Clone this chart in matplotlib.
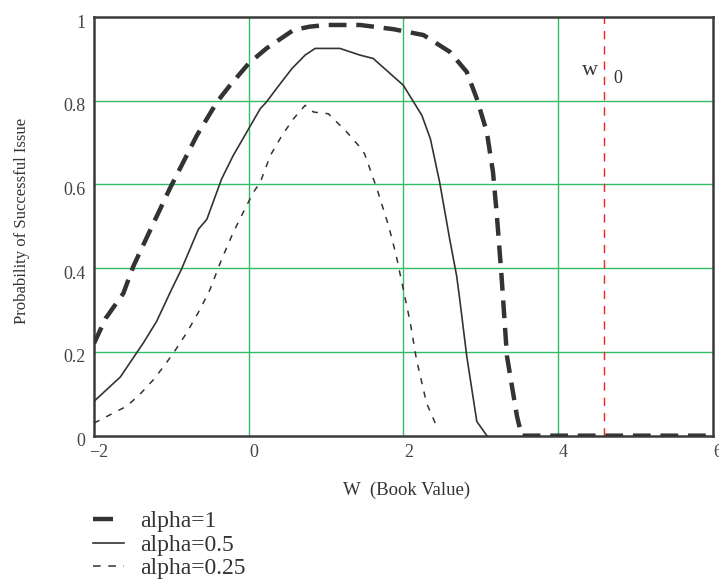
import matplotlib
matplotlib.use('Agg')
import matplotlib.pyplot as plt
from matplotlib.transforms import ScaledTranslation

plt.rcParams['font.family'] = ['Liberation Serif', 'DejaVu Serif']

# alpha = 1 (thick dashed)
x_a1 = [-2.0, -1.85, -1.62, -1.49, -1.25, -1.02, -0.67, -0.41, -0.24, 0.0, 0.23, 0.58, 0.79,
        1.0, 1.44, 1.87, 2.26, 2.60, 2.82, 2.95, 3.08, 3.16, 3.21, 3.27, 3.34, 3.47, 3.53, 4.0, 5.0, 6.0]
y_a1 = [0.22, 0.28, 0.34, 0.405, 0.50, 0.59, 0.717, 0.797, 0.837, 0.889, 0.925, 0.969, 0.977,
        0.981, 0.981, 0.971, 0.957, 0.917, 0.869, 0.805, 0.725, 0.629, 0.525, 0.381, 0.19, 0.046, 0.0, 0.0, 0.0, 0.0]

# alpha = 0.5 (solid)
x_a05 = [-2.0, -1.66, -1.36, -1.19, -0.995, -0.87, -0.65, -0.54, -0.35, -0.2, 0.0, 0.15, 0.23, 0.36,
         0.56, 0.73, 0.86, 1.18, 1.44, 1.61, 2.0, 2.24, 2.35, 2.47, 2.60, 2.69, 2.73, 2.82, 2.95, 3.08]
y_a05 = [0.082, 0.14, 0.222, 0.273, 0.35, 0.397, 0.493, 0.517, 0.613, 0.669, 0.733, 0.781, 0.797, 0.829,
         0.877, 0.909, 0.925, 0.925, 0.909, 0.901, 0.837, 0.765, 0.709, 0.605, 0.469, 0.381, 0.325, 0.19, 0.034, 0.0]

# alpha = 0.25 (thin dashed)
x_a025 = [-2.0, -1.75, -1.58, -1.41, -1.23, -1.10, -0.97, -0.80, -0.63, -0.5, -0.35, -0.2, -0.05, 0.06,
          0.15, 0.28, 0.43, 0.58, 0.73, 0.84, 1.03, 1.27, 1.44, 1.50, 1.66, 1.81, 1.91, 2.0, 2.09, 2.17, 2.30, 2.45]
y_a025 = [0.03, 0.054, 0.07, 0.098, 0.134, 0.165, 0.198, 0.246, 0.301, 0.349, 0.421, 0.485, 0.541, 0.581,
          0.605, 0.669, 0.717, 0.757, 0.789, 0.773, 0.769, 0.725, 0.689, 0.673, 0.589, 0.501, 0.429, 0.349, 0.27, 0.182, 0.078, 0.014]

w0 = 4.6
x_ticks = [-2, 0, 2, 4, 6]
x_ticklabels = ['\u22122', '0', '2', '4', '6']
y_ticks = [0, 0.2, 0.4, 0.6, 0.8, 1]
y_ticklabels = ['0', '0.2', '0.4', '0.6', '0.8', '1']

line_col = '#333333'
grid_col = '#33bb66'

fig = plt.figure(figsize=(7.19, 5.87), dpi=100)
ax = fig.add_axes([0.1307, 0.2578, 0.8605, 0.7132])

for v in x_ticks[1:-1]:
    ax.axvline(v, color=grid_col, lw=1.0, zorder=1)
for v in y_ticks[1:-1]:
    ax.axhline(v, color=grid_col, lw=1.0, zorder=1)

ax.axvline(w0, color='#ee2222', lw=1.0, ls=(0, (6, 5)), zorder=2)
ax.text(4.414, 0.872, 'w', fontsize=16, color=line_col, ha='center', va='center')
ax.text(4.776, 0.853, '0', fontsize=13, color=line_col, ha='center', va='center')

l1, = ax.plot(x_a1, y_a1, color=line_col, lw=3.2, ls=(0, (4, 2.2)), zorder=3)
l2, = ax.plot(x_a05, y_a05, color=line_col, lw=1.2, zorder=3)
l3, = ax.plot(x_a025, y_a025, color=line_col, lw=1.1, ls=(0, (4, 5)), zorder=3)

ax.set_xlim(-2, 6)
ax.set_ylim(0, 1)
ax.set_xticks(x_ticks)
ax.set_xticklabels(x_ticklabels)
ax.set_yticks(y_ticks)
ax.set_yticklabels(y_ticklabels)
ax.tick_params(length=0, labelsize=13, colors='#444444', pad=6)
# labels in the original sit a few pixels right / below their ticks
for lab in ax.get_xticklabels():
    lab.set_transform(lab.get_transform() + ScaledTranslation(0.05, 0, fig.dpi_scale_trans))
for lab in ax.get_yticklabels():
    lab.set_transform(lab.get_transform() + ScaledTranslation(0, -0.04, fig.dpi_scale_trans))
for s in ax.spines.values():
    s.set_color('#3a3a3a')
    s.set_linewidth(1.8)

ax.set_xlabel('W  (Book Value)', fontsize=13.5, color='#333333')
ax.xaxis.set_label_coords(0.505, -0.11)
ax.set_ylabel('Probability of Successful Issue', fontsize=12, color='#333333')
ax.yaxis.set_label_coords(-0.103, 0.513)

leg = ax.legend([l1, l2, l3], ['alpha=1', 'alpha=0.5', 'alpha=0.25'],
                loc='upper left', bbox_to_anchor=(-0.017, -0.157), frameon=False,
                fontsize=17, handlelength=1.3, handletextpad=0.7, labelspacing=0.08,
                borderaxespad=0)
leg_lines = leg.get_lines()
leg_lines[0].set_linestyle((0, (4.5, 10)))
leg_lines[2].set_linestyle((0, (5, 5)))
for t in leg.get_texts():
    t.set_color('#333333')

fig.savefig('out.png', dpi=100)
